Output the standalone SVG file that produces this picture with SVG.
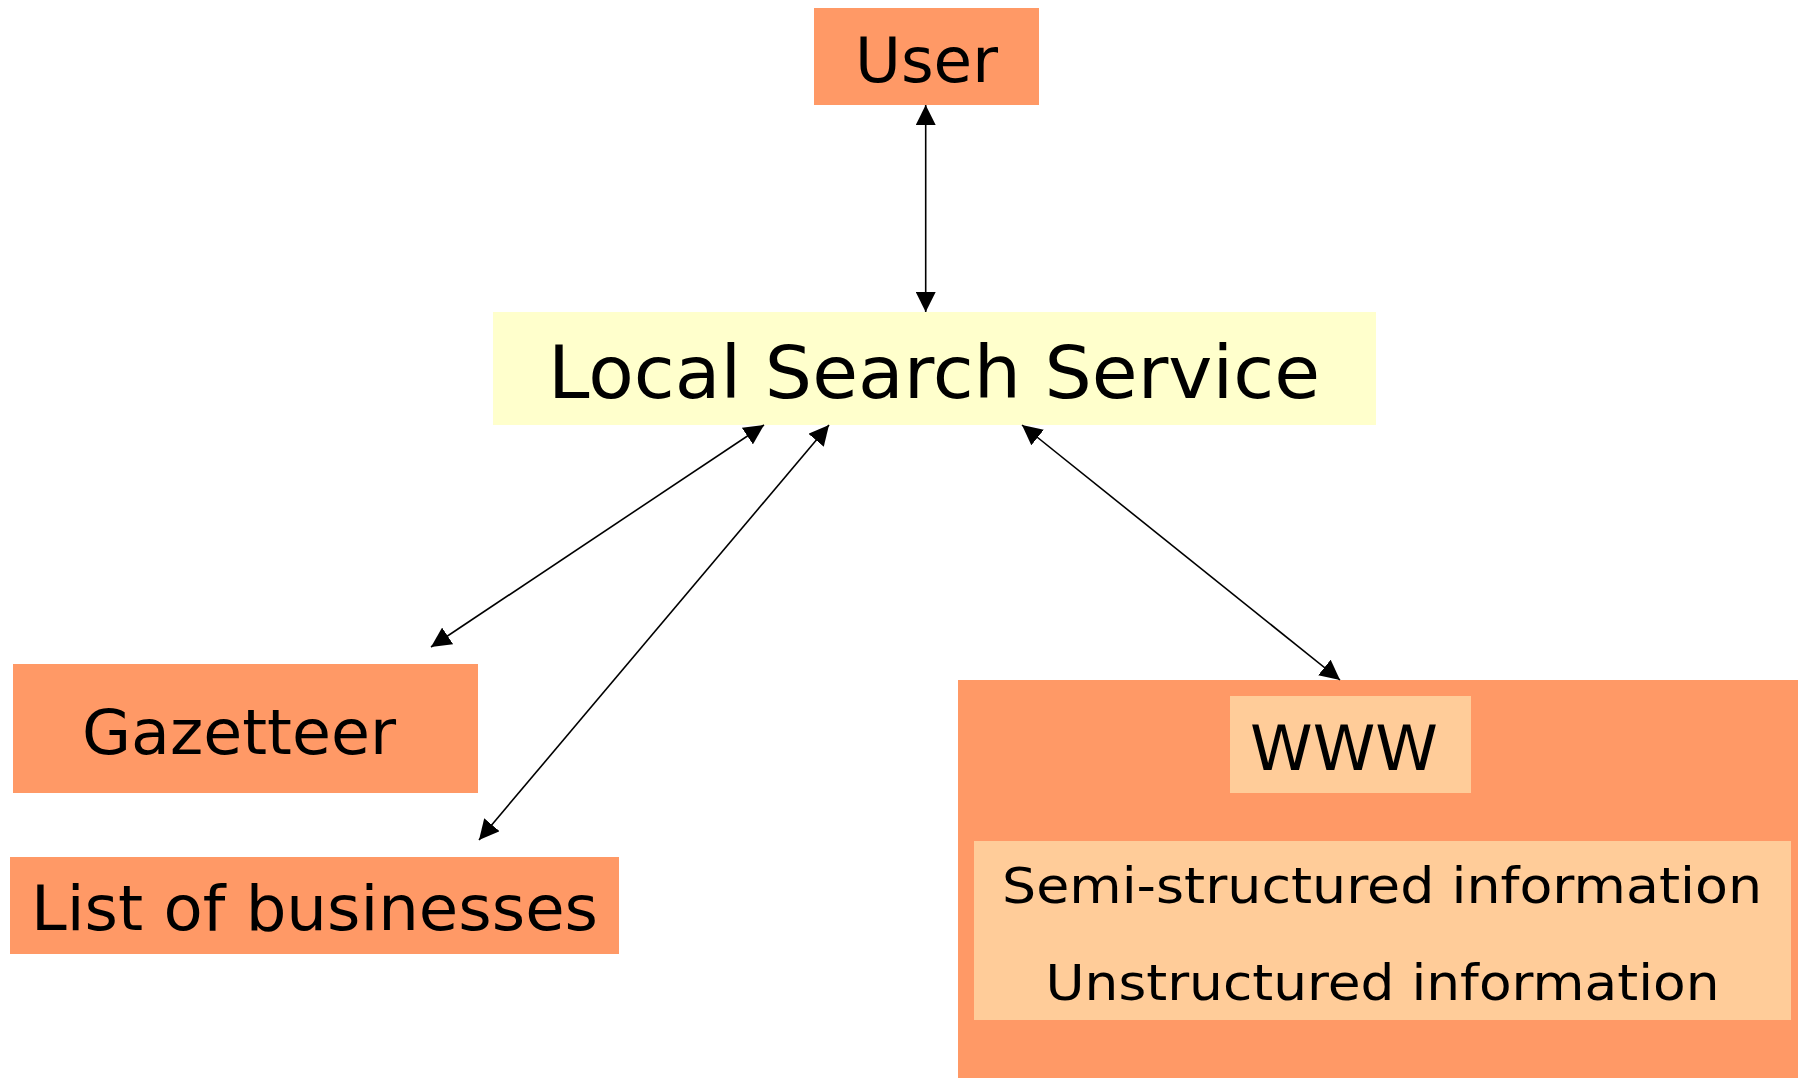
<svg xmlns="http://www.w3.org/2000/svg" width="1798" height="1078" viewBox="0 0 1798 1078">
  <style>
    .box { fill: #FF9966; }
    .core { fill: #FFFFCC; }
    .inner { fill: #FFCC99; }
    .lbl { font-family: "DejaVu Sans", "Liberation Sans", sans-serif; fill: #000; text-anchor: middle; }
    .link { stroke: #000; stroke-width: 1.6; fill: none; marker-start: url(#head); marker-end: url(#head); }
  </style>
  <defs>
    <marker id="head" markerUnits="userSpaceOnUse" markerWidth="20" markerHeight="20" refX="20" refY="10" orient="auto-start-reverse" viewBox="0 0 20 20">
      <path d="M0,0 L20,10 L0,20 Z" fill="#000"/>
    </marker>
  </defs>
  <rect width="1798" height="1078" fill="#FFFFFF"/>

  <g id="user">
    <rect class="box" x="814" y="8" width="225" height="97"/>
    <text class="lbl" x="926.5" y="82" font-size="62" textLength="143" lengthAdjust="spacingAndGlyphs">User</text>
  </g>

  <g id="local-search-service">
    <rect class="core" x="493" y="312" width="883" height="113"/>
    <text class="lbl" x="934" y="398" font-size="73" textLength="772" lengthAdjust="spacingAndGlyphs">Local Search Service</text>
  </g>

  <g id="gazetteer">
    <rect class="box" x="13" y="664" width="465" height="129"/>
    <text class="lbl" x="239" y="754" font-size="63" textLength="314" lengthAdjust="spacingAndGlyphs">Gazetteer</text>
  </g>

  <g id="list-of-businesses">
    <rect class="box" x="10" y="857" width="609" height="97"/>
    <text class="lbl" x="314.5" y="930" font-size="62" textLength="567" lengthAdjust="spacingAndGlyphs">List of businesses</text>
  </g>

  <g id="www">
    <rect class="box" x="958" y="680" width="840" height="398"/>
    <rect class="inner" x="1230" y="696" width="241" height="97"/>
    <text class="lbl" x="1344" y="770" font-size="62" textLength="188" lengthAdjust="spacingAndGlyphs">WWW</text>
    <rect class="inner" x="974" y="841" width="817" height="179"/>
    <text class="lbl" x="1382" y="903" font-size="50" textLength="760" lengthAdjust="spacingAndGlyphs">Semi-structured information</text>
    <text class="lbl" x="1382.5" y="1000" font-size="50" textLength="674" lengthAdjust="spacingAndGlyphs">Unstructured information</text>
  </g>

  <g id="connectors">
    <line class="link" x1="925.7" y1="105" x2="925.7" y2="312"/>
    <line class="link" x1="764" y1="425" x2="431" y2="647"/>
    <line class="link" x1="829" y1="425" x2="479" y2="840"/>
    <line class="link" x1="1022" y1="425" x2="1340" y2="680"/>
  </g>
</svg>
